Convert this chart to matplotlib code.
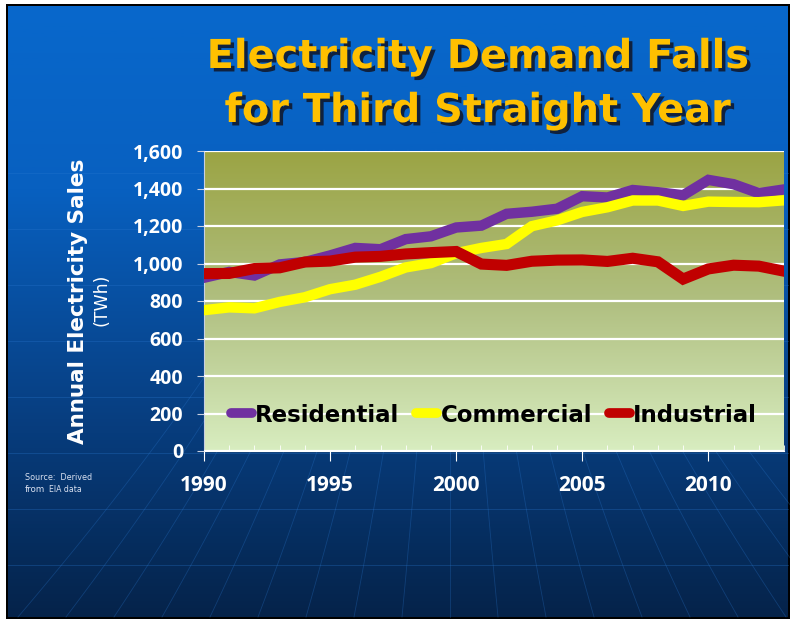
import numpy as np
import matplotlib
matplotlib.use("Agg")
import matplotlib.pyplot as plt
import matplotlib.patheffects as pe
from matplotlib.colors import LinearSegmentedColormap
from matplotlib.ticker import FuncFormatter, MultipleLocator

# data (TWh)
years = list(range(1990, 2014))
residential = [924, 955, 936, 995, 1008, 1043, 1083, 1076, 1130, 1145, 1192, 1202,
               1265, 1276, 1292, 1359, 1352, 1392, 1380, 1364, 1446, 1423, 1375, 1395]
commercial = [751, 766, 761, 795, 820, 863, 887, 929, 979, 1002, 1055, 1083,
              1104, 1199, 1230, 1275, 1300, 1336, 1336, 1307, 1330, 1328, 1327, 1337]
industrial = [946, 947, 973, 977, 1008, 1013, 1034, 1038, 1051, 1058, 1064, 997,
              990, 1012, 1018, 1019, 1011, 1028, 1009, 917, 971, 991, 986, 959]
series = [("Residential", residential, "#7030a0"),
          ("Commercial", commercial, "#ffff00"),
          ("Industrial", industrial, "#c00000")]

W, H = 790, 619
fig = plt.figure(figsize=(W / 100, H / 100), dpi=100)
fig.patch.set_facecolor("white")

# slide background
bg = fig.add_axes([0, 0, 1, 1])
bg.set_xlim(0, W); bg.set_ylim(H, 0); bg.axis("off")
bg.add_patch(plt.Rectangle((6, 4), 784, 615, facecolor="black", edgecolor="none"))
blue = LinearSegmentedColormap.from_list("bg", [(0, "#0868cc"), (0.3, "#0860c0"),
                                                (0.7, "#073c7c"), (1, "#05234a")])
grad = np.linspace(0, 1, 256).reshape(-1, 1)
bg.imshow(grad, cmap=blue, extent=(8, 788, 617, 6), aspect="auto", zorder=1)
for yy in np.arange(173, 617, 56):
    bg.plot([8, 788], [yy, yy], color="#2a78d0", lw=0.6, alpha=0.35, zorder=2)
for k in range(-9, 10):
    t = np.linspace(0, 1, 40)
    xs = 450 + k * (14 + 34 * t ** 1.3)
    ys = 150 + 467 * t
    bg.plot(xs, ys, color="#2a78d0", lw=0.6, alpha=0.3, zorder=2)
bg.set_xlim(0, W); bg.set_ylim(H, 0)

# title
for i, line in enumerate(["Electricity Demand Falls", "for Third Straight Year"]):
    fig.text(478 / W, 1 - (57 + 54 * i) / H, line, ha="center", va="center",
             fontsize=28.7, fontweight="bold", family="DejaVu Sans", color="#ffc000",
             path_effects=[pe.withSimplePatchShadow(offset=(2.5, -2.5),
                                                    shadow_rgbFace="#101a30", alpha=0.9)])

# chart
ax = fig.add_axes([204 / W, 1 - 451 / H, 580 / W, 300 / H])
green = LinearSegmentedColormap.from_list("pl", ["#9ba444", "#b0bf80", "#d8edc0"])
ax.imshow(grad, cmap=green, extent=(1990, 2013, 0, 1600), aspect="auto", zorder=0)
ax.set_xlim(1990, 2013); ax.set_ylim(0, 1600)
ax.yaxis.set_major_locator(MultipleLocator(200))
ax.grid(axis="y", color="white", lw=1.6, zorder=1)
ax.set_axisbelow(False)

for name, vals, col in series:
    ax.plot(years, vals, color=col, lw=8 if name == "Industrial" else 7.5,
            solid_joinstyle="miter", label=name, zorder=3)

ax.xaxis.set_major_locator(MultipleLocator(5))
ax.xaxis.set_minor_locator(MultipleLocator(1))
ax.tick_params(axis="x", which="major", direction="out", length=7, color="white",
               labelcolor="white", pad=10)
ax.tick_params(axis="x", which="minor", direction="in", length=4, color="white")
ax.tick_params(axis="y", direction="out", length=5, color="#c8d0e0",
               labelcolor="white", pad=10)
ax.yaxis.set_major_formatter(FuncFormatter(lambda v, p: "{:,.0f}".format(v)))
for lab in ax.get_xticklabels():
    lab.set_fontsize(15); lab.set_fontweight("bold"); lab.set_family("Open Sans")
for lab in ax.get_yticklabels():
    lab.set_fontsize(14); lab.set_fontweight("bold"); lab.set_family("Open Sans")
for s in ["top", "right"]:
    ax.spines[s].set_visible(False)
ax.spines["left"].set_color("#c8d0e0")
ax.spines["bottom"].set_color("white")

leg = ax.legend(loc="center", bbox_to_anchor=(0.5, 0.12), ncol=3, frameon=False,
                handlelength=0.9, handletextpad=0.15, columnspacing=0.75,
                prop={"family": "DejaVu Sans", "weight": "bold", "size": 16.5})
for h in leg.get_lines():
    h.set_linewidth(7)
    h.set_solid_capstyle("round")

fig.text(78 / W, 1 - 301 / H, "Annual Electricity Sales", rotation=90, ha="center",
         va="center", fontsize=15.5, fontweight="bold", color="white", family="DejaVu Sans")
fig.text(102 / W, 1 - 300 / H, "(TWh)", rotation=90, ha="center", va="center",
         fontsize=12.5, color="white", family="DejaVu Sans")

fig.text(25 / W, 1 - 478 / H, "Source:  Derived", fontsize=5.8, color="#d8e0f0",
         va="center", family="DejaVu Sans")
fig.text(25 / W, 1 - 490 / H, "from", fontsize=6.3, color="#d8e0f0", va="center",
         family="DejaVu Sans")
fig.text(49 / W, 1 - 490 / H, "EIA data", fontsize=5.6, color="#d8e0f0", va="center",
         family="DejaVu Sans")

fig.savefig("out.png", dpi=100)
